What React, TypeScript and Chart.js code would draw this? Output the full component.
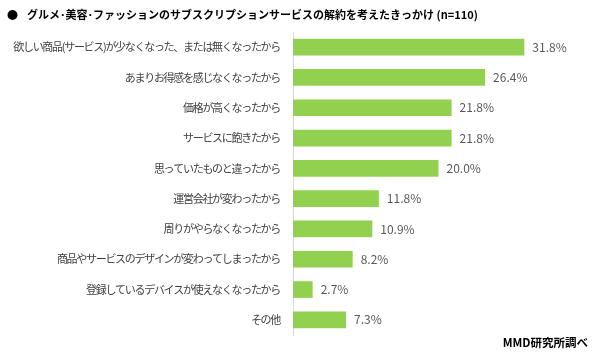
import React, { useEffect, useRef } from "react";
import { Chart, registerables } from "chart.js";

Chart.register(...registerables);

const categories = [
  "欲しい商品(サービス)が少なくなった、または無くなったから",
  "あまりお得感を感じなくなったから",
  "価格が高くなったから",
  "サービスに飽きたから",
  "思っていたものと違ったから",
  "運営会社が変わったから",
  "周りがやらなくなったから",
  "商品やサービスのデザインが変わってしまったから",
  "登録しているデバイスが使えなくなったから",
  "その他",
];
const values = [31.8, 26.4, 21.8, 21.8, 20.0, 11.8, 10.9, 8.2, 2.7, 7.3];
const titleText = "グルメ･美容･ファッションのサブスクリプションサービスの解約を考えたきっかけ (n=110)";
const sourceText = "MMD研究所調べ";

const FONT = "'Noto Sans CJK JP', 'Noto Sans', sans-serif";

export default function App() {
  const ref = useRef<HTMLCanvasElement | null>(null);
  useEffect(() => {
    document.body.style.margin = "0";
    const canvas = ref.current!;
    const labelPlugin = {
      id: "extras",
      beforeDraw(chart: any) {
        (chart.ctx as any).letterSpacing = "-1.3px";
      },
      afterDatasetsDraw(chart: any) {
        const ctx = chart.ctx;
        (ctx as any).letterSpacing = "0px";
        const meta = chart.getDatasetMeta(0);
        ctx.save();
        ctx.font = `12px ${FONT}`;
        ctx.fillStyle = "#595959";
        ctx.textAlign = "left";
        ctx.textBaseline = "middle";
        meta.data.forEach((bar: any, i: number) => {
          ctx.fillText(values[i].toFixed(1) + "%", bar.x + 8, bar.y);
        });
        // title
        ctx.fillStyle = "#000";
        ctx.font = `bold 11px ${FONT}`;
        ctx.textBaseline = "middle";
        ctx.fillText("●", 7, 15);
        ctx.fillText(titleText, 27, 15);
        // source
        ctx.textAlign = "right";
        ctx.font = `bold 11.5px ${FONT}`;
        ctx.fillText(sourceText, 588, 343);
        ctx.restore();
      },
    };
    const chart = new Chart(canvas, {
      type: "bar",
      data: {
        labels: categories,
        datasets: [
          {
            data: values,
            backgroundColor: "#92d050",
            barPercentage: 0.55,
            categoryPercentage: 1,
          },
        ],
      },
      options: {
        indexAxis: "y",
        animation: false,
        responsive: false,
        layout: { padding: { top: 32, bottom: 20, left: 0, right: 16 } },
        plugins: { legend: { display: false }, tooltip: { enabled: false } },
        scales: {
          x: { display: false, min: 0, max: 40 },
          y: {
            grid: { display: false, drawTicks: false },
            border: { display: true, color: "#d9d9d9" },
            ticks: {
              color: "#404040",
              font: { family: FONT, size: 11 },
              padding: 13,
            },
            afterFit(scale: any) {
              scale.width = 293;
            },
          },
        },
      },
      plugins: [labelPlugin],
    });
    return () => chart.destroy();
  }, []);
  return (
    <div style={{ width: 600, height: 355 }}>
      <canvas ref={ref} width={600} height={355} />
    </div>
  );
}
